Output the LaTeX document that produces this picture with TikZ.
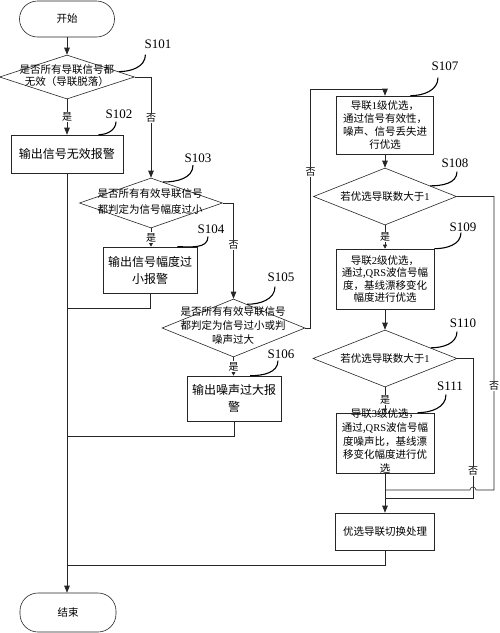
\documentclass[tikz,border=0pt]{standalone}
\usepackage{fontspec}
\setmainfont{Liberation Serif}
\newfontfamily\cjk{Noto Sans CJK SC}
\usetikzlibrary{shapes.geometric,arrows.meta,calc}
\begin{document}
\begin{tikzpicture}[x=1pt,y=-1pt,
  line/.style={draw=black!85, line width=0.6pt},
  arr/.style={line, -{Triangle[length=7pt,width=5.5pt]}},
  sarr/.style={line, -{Triangle[length=4pt,width=4pt]}},
  box/.style={draw=black!85, line width=0.6pt, rectangle, inner sep=0pt, align=center},
  dia/.style={draw=black!85, line width=0.6pt, diamond, inner sep=0pt},
  term/.style={draw=black!85, line width=0.6pt, rectangle, rounded corners=18pt, inner sep=0pt, align=center},
  txt/.style={align=center, inner sep=0pt},
  fs/.style={font=\cjk\fontsize{10.5}{#1}\selectfont},
  fb/.style={font=\cjk\fontsize{12}{17}\selectfont},
  yn/.style={fill=white, inner sep=1pt, font=\cjk\fontsize{10}{10}\selectfont},
  slab/.style={font=\fontsize{13}{13}\selectfont, inner sep=0pt},
  lead/.style={draw=black, line width=1.1pt},
]
\useasboundingbox (0,0) rectangle (500,633);

% left column
\node[term, minimum width=95pt, minimum height=36pt, fs=12] (start) at (67,19) {开始};
\node[dia, minimum width=135pt, minimum height=44pt] (d1) at (67,77) {};
\node[txt, fs=12] (t1) at (67,76) {是否所有导联信号都\\无效（导联脱落）};
\node[box, minimum width=112pt, minimum height=38pt, fb] (s102) at (67,154) {输出信号无效报警};

\node[dia, minimum width=143pt, minimum height=50pt] (d3) at (151,203) {};
\node[txt, fs=16] (t3) at (150,202) {是否所有有效导联信号\\都判定为信号幅度过小};
\node[box, minimum width=94pt, minimum height=46pt, fb] (s104) at (150,270) {输出信号幅度过\\小报警};

\node[dia, minimum width=143pt, minimum height=58pt] (d5) at (233.5,328) {};
\node[txt, fs=14] (t5) at (233,326) {是否所有有效导联信号\\都判定为信号过小或判\\噪声过大};
\node[box, minimum width=94pt, minimum height=45pt, fb] (s106) at (234,398.5) {输出噪声过大报\\警};

\node[term, minimum width=96pt, minimum height=39pt, fs=12] (end) at (68,612.5) {结束};

% right column
\node[box, minimum width=97pt, minimum height=58pt, fs=13.3] (s107) at (385,125) {导联{\rmfamily 1}级优选，\\通过信号有效性，\\噪声、信号丢失进\\行优选};
\node[dia, minimum width=143pt, minimum height=57pt] (d8) at (385,196.5) {};
\node[txt, fs=12] (t8) at (385,196.5) {若优选导联数大于{\rmfamily 1}};
\node[box, minimum width=98pt, minimum height=60pt, fs=12.3] (s109) at (385,279) {导联{\rmfamily 2}级优选，\\通过,{\rmfamily QRS}波信号幅\\度，基线漂移变化\\幅度进行优选};
\node[dia, minimum width=144pt, minimum height=57pt] (d10) at (385,358.5) {};
\node[txt, fs=12] (t10) at (385,358.5) {若优选导联数大于{\rmfamily 1}};
\node[box, minimum width=98pt, minimum height=60pt] (s111) at (385,443) {};
\node[txt, fs=13.75] (t111) at (385,441) {导联{\rmfamily 3}级优选，\\通过,{\rmfamily QRS}波信号幅\\度噪声比，基线漂\\移变化幅度进行优\\选};
\node[box, minimum width=99pt, minimum height=37pt, fs=12] (s112) at (385,531.5) {优选导联切换处理};

% connectors left
\draw[arr] (start) -- (d1);
\draw[arr] (d1) -- node[yn]{是} (s102);
\draw[arr] (d1.east) -| (d3.north);
\node[yn] (n1) at (151,118) {否};
\draw[sarr] (d3.south) -- node[yn]{是} (d3.south |- s104.north);
\draw[line] (s104.south) |- (s102.south |- 0,308);
\draw[arr] (d3.east) -| (d5.north);
\node[yn] (n3) at (233.5,245) {否};
\draw[sarr] (d5.south) -- node[yn]{是} (d5.south |- s106.north);
\draw[line] (s106.south) |- (s102.south |- 0,436);
\draw[arr] (s102.south) -- (s102.south |- end.north);

% D5 no -> S107
\coordinate (c5) at (310.5,89);
\draw[arr] (d5.east) -| (c5) -| (s107.north);
\node[yn] (n5) at (310.5,172) {否};

% connectors right
\draw[arr] (s107) -- (d8);
\draw[sarr] (d8) -- node[yn]{是} (s109);
\draw[arr] (s109) -- (d10);
\draw[sarr] (d10) -- node[yn]{是} (s111);
\draw[arr] (s111) -- (s112);
\coordinate (c8) at (494,490);
\draw[line] (d8.east) -| (c8) -- (476,490) arc[start angle=0,end angle=180,radius=3pt] -- (s111.south |- c8);
\node[yn] (n8) at (494,386) {否};
\coordinate (c10) at (473,498);
\draw[line] (d10.east) -| (c10) -- (s111.south |- c10);
\node[yn] (n10) at (473,471) {否};
\draw[line] (s112.south) |- (s102.south |- 0,565);

% step labels and leaders
\node[slab] (l101) at (158,44) {S101};
\draw[lead] ($(l101.south west)+(1,6)$) to[out=-90,in=0] ($(d1.east)!0.24!(d1.north)$);
\node[slab] (l102) at (119,114) {S102};
\draw[lead] ($(l102.south)+(-3,3)$) to[out=-90,in=0] ($(s102.north west)!0.78!(s102.north east)$);
\node[slab] (l103) at (198,158) {S103};
\draw[lead] ($(l103.south)+(-5,2.5)$) to[out=-90,in=0] ($(d3.north)!0.17!(d3.east)$);
\node[slab] (l104) at (211,229) {S104};
\draw[lead] ($(l104.south)+(-3,3)$) to[out=-90,in=0] ($(s104.north west)!0.79!(s104.north east)$);
\node[slab] (l105) at (281,277) {S105};
\draw[lead] ($(l105.south)+(-6,5)$) to[out=-90,in=0] ($(d5.north)!0.19!(d5.east)$);
\node[slab] (l106) at (281,354) {S106};
\draw[lead] ($(l106.south)+(-3,2)$) to[out=-90,in=0] ($(s106.north west)!0.67!(s106.north east)$);
\node[slab] (l107) at (445,66) {S107};
\draw[lead] ($(l107.south)+(-7,7)$) to[out=-90,in=0] ($(s107.north west)!0.76!(s107.north east)$);
\node[slab] (l108) at (455,163) {S108};
\draw[lead] ($(l108.south)+(2,4)$) to[out=-90,in=0] ($(d8.north)!0.63!(d8.east)$);
\node[slab] (l109) at (463,227) {S109};
\draw[lead] ($(l109.south)+(-2,1)$) to[out=-90,in=0] (s109.north east);
\node[slab] (l110) at (463,323) {S110};
\draw[lead] ($(l110.south)+(-6,4)$) to[out=-90,in=0] ($(d10.north)!0.63!(d10.east)$);
\node[slab] (l111) at (450,386) {S111};
\draw[lead] ($(l111.south)+(-4,4)$) to[out=-90,in=0] ($(s111.north west)!0.83!(s111.north east)$);
\end{tikzpicture}
\end{document}
